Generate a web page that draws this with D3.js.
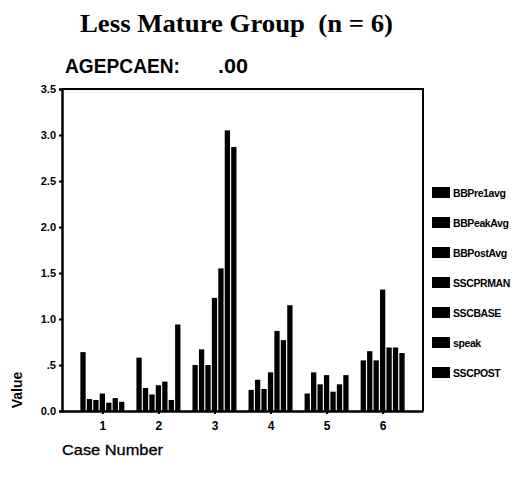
<!DOCTYPE html>
<html>
<head>
<meta charset="utf-8">
<script src="https://cdn.jsdelivr.net/npm/d3@7"></script>
<style>
  html, body { margin: 0; padding: 0; background: #fff; }
  svg { display: block; }
</style>
</head>
<body>
<svg id="chart" width="528" height="478"></svg>
<script>
// Case numbers along the x axis
const cases = ["1", "2", "3", "4", "5", "6"];
// Measures plotted for each case, in legend order
const seriesNames = ["BBPre1avg", "BBPeakAvg", "BBPostAvg", "SSCPRMAN", "SSCBASE", "speak", "SSCPOST"];
// Values per series, one entry per case
const BBPre1avg = [0.64, 0.58, 0.50, 0.23, 0.19, 0.55];
const BBPeakAvg = [0.13, 0.25, 0.67, 0.34, 0.42, 0.65];
const BBPostAvg = [0.12, 0.18, 0.50, 0.24, 0.29, 0.55];
const SSCPRMAN  = [0.19, 0.28, 1.23, 0.42, 0.39, 1.32];
const SSCBASE   = [0.09, 0.32, 1.55, 0.87, 0.21, 0.69];
const speak     = [0.14, 0.12, 3.05, 0.77, 0.29, 0.69];
const SSCPOST   = [0.10, 0.94, 2.87, 1.15, 0.39, 0.63];
const seriesValues = [BBPre1avg, BBPeakAvg, BBPostAvg, SSCPRMAN, SSCBASE, speak, SSCPOST];
// Y axis tick values and their printed labels
const yTicks = [0, 0.5, 1.0, 1.5, 2.0, 2.5, 3.0, 3.5];
const yTickLabels = ["0.0", ".5", "1.0", "1.5", "2.0", "2.5", "3.0", "3.5"];

const svg = d3.select("#chart");
const plot = { left: 62, right: 423, top: 89, bottom: 411 };

const x = d3.scalePoint().domain(cases).range([plot.left, plot.right]).padding(0.72);
const y = d3.scaleLinear().domain([0, 3.5]).range([plot.bottom, plot.top]);
const groupWidth = 44;
const inner = d3.scaleBand().domain(seriesNames).range([-groupWidth / 2, groupWidth / 2]).paddingInner(0.18);

const sans = "Liberation Sans, Arial, sans-serif";

// Title and subtitle
svg.append("text")
  .attr("x", 80).attr("y", 32)
  .attr("xml:space", "preserve")
  .style("white-space", "pre")
  .attr("font-family", "Liberation Serif, Times New Roman, serif")
  .attr("font-weight", "bold").attr("font-size", 25)
  .attr("textLength", 313).attr("lengthAdjust", "spacingAndGlyphs")
  .text("Less Mature Group  (n = 6)");

svg.append("text")
  .attr("x", 65).attr("y", 73)
  .attr("font-family", sans)
  .attr("font-weight", "bold").attr("font-size", 20)
  .attr("textLength", 115).attr("lengthAdjust", "spacingAndGlyphs")
  .text("AGEPCAEN:");
svg.append("text")
  .attr("x", 218).attr("y", 73)
  .attr("font-family", sans)
  .attr("font-weight", "bold").attr("font-size", 20)
  .attr("textLength", 30).attr("lengthAdjust", "spacingAndGlyphs")
  .text(".00");

// Plot frame: top and right edges
svg.append("path")
  .attr("d", `M${plot.left},${plot.top}H${plot.right}V${plot.bottom}`)
  .attr("fill", "none").attr("stroke", "#000").attr("stroke-width", 2);

// Bars
const groups = svg.append("g").selectAll("g")
  .data(cases).join("g")
  .attr("transform", d => `translate(${x(d)},0)`);

groups.selectAll("rect")
  .data((d, i) => seriesNames.map((s, j) => ({ s, v: seriesValues[j][i] })))
  .join("rect")
  .attr("x", d => inner(d.s))
  .attr("width", inner.bandwidth())
  .attr("y", d => y(d.v))
  .attr("height", d => y(0) - y(d.v))
  .attr("fill", "#000");

// Y axis
const yAxis = svg.append("g")
  .attr("transform", `translate(${plot.left},0)`)
  .call(d3.axisLeft(y).tickValues(yTicks)
    .tickFormat((d, i) => yTickLabels[i]).tickSize(3).tickPadding(3));
yAxis.select(".domain").attr("stroke-width", 2.5);
yAxis.selectAll(".tick line").attr("stroke-width", 2);
yAxis.selectAll("text")
  .attr("font-family", sans)
  .attr("font-weight", "bold").attr("font-size", 11).attr("fill", "#000");

// X axis
const xAxis = svg.append("g")
  .attr("transform", `translate(0,${plot.bottom})`)
  .call(d3.axisBottom(x).tickSize(3).tickPadding(7).tickSizeOuter(0));
xAxis.select(".domain").attr("stroke-width", 2.5);
xAxis.selectAll(".tick line").attr("stroke-width", 2);
xAxis.selectAll("text")
  .attr("font-family", sans)
  .attr("font-weight", "bold").attr("font-size", 12).attr("fill", "#000");

// Axis titles
svg.append("text")
  .attr("transform", "translate(22,390) rotate(-90)")
  .attr("text-anchor", "middle")
  .attr("font-family", sans)
  .attr("font-weight", "bold").attr("font-size", 14)
  .text("Value");

svg.append("text")
  .attr("x", 62).attr("y", 455)
  .attr("font-family", sans)
  .attr("font-size", 15)
  .attr("textLength", 101).attr("lengthAdjust", "spacingAndGlyphs")
  .attr("stroke", "#000").attr("stroke-width", 0.3)
  .text("Case Number");

// Legend
const legend = svg.append("g").selectAll("g")
  .data(seriesNames).join("g")
  .attr("transform", (d, i) => `translate(432,${187 + i * 30})`);
legend.append("rect")
  .attr("width", 18).attr("height", 11).attr("fill", "#000");
legend.append("text")
  .attr("x", 21).attr("y", 9.5)
  .attr("font-family", sans)
  .attr("font-weight", "bold").attr("font-size", 10.5)
  .attr("letter-spacing", -0.4)
  .text(d => d);
</script>
</body>
</html>
